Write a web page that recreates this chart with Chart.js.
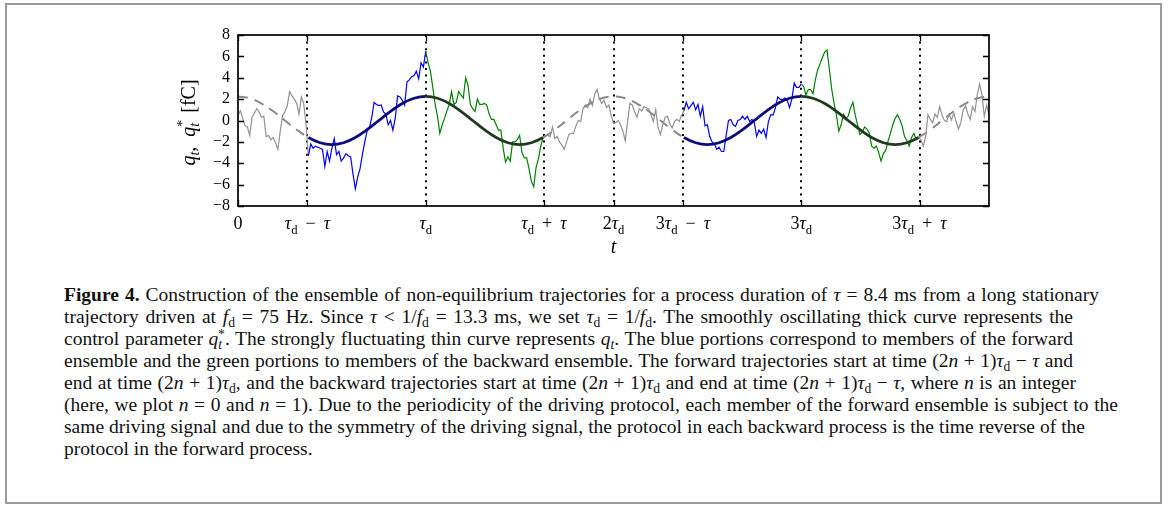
<!DOCTYPE html>
<html>
<head>
<meta charset="utf-8">
<script src="https://cdn.jsdelivr.net/npm/chart.js@4.4.1/dist/chart.umd.min.js"></script>
<style>
  html, body { margin: 0; padding: 0; background: #fff; }
  body { width: 1168px; height: 506px; position: relative; overflow: hidden; }
  #frame { position: absolute; left: 5px; top: 3px; width: 1157px; height: 501px;
           box-sizing: border-box; border: 2px solid #9b9b9b; }
  #chart { position: absolute; left: 0; top: 0; }
  #caption { position: absolute; left: 64px; top: 284px; color: #111;
             font-family: "Liberation Serif", serif; font-size: 19.5px; line-height: 22px; }
  #caption .ln { white-space: nowrap; height: 22px; }
  #caption .ln span { display: inline-block; }
  #caption sub { font-size: 0.7em; vertical-align: -0.3em; line-height: 0; }
  #caption sup.st { font-size: 0.7em; vertical-align: 0.45em; line-height: 0; margin-left: -0.3em; }
</style>
</head>
<body>
<div id="frame"></div>
<canvas id="chart" width="1168" height="270"></canvas>
<div id="caption">
  <div class="ln"><span><b>Figure 4.</b> Construction of the ensemble of non-equilibrium trajectories for a process duration of <i>τ</i> = 8.4 ms from a long stationary</span></div>
  <div class="ln"><span>trajectory driven at <i>f</i><sub>d</sub> = 75 Hz. Since <i>τ</i> &lt; 1/<i>f</i><sub>d</sub> = 13.3 ms, we set <i>τ</i><sub>d</sub> = 1/<i>f</i><sub>d</sub>. The smoothly oscillating thick curve represents the</span></div>
  <div class="ln"><span>control parameter <i>q</i><sub><i>t</i></sub><sup class="st">*</sup>. The strongly fluctuating thin curve represents <i>q</i><sub><i>t</i></sub>. The blue portions correspond to members of the forward</span></div>
  <div class="ln"><span>ensemble and the green portions to members of the backward ensemble. The forward trajectories start at time (2<i>n</i> + 1)<i>τ</i><sub>d</sub> − <i>τ</i> and</span></div>
  <div class="ln"><span>end at time (2<i>n</i> + 1)<i>τ</i><sub>d</sub>, and the backward trajectories start at time (2<i>n</i> + 1)<i>τ</i><sub>d</sub> and end at time (2<i>n</i> + 1)<i>τ</i><sub>d</sub> − <i>τ</i>, where <i>n</i> is an integer</span></div>
  <div class="ln"><span>(here, we plot <i>n</i> = 0 and <i>n</i> = 1). Due to the periodicity of the driving protocol, each member of the forward ensemble is subject to the</span></div>
  <div class="ln"><span>same driving signal and due to the symmetry of the driving signal, the protocol in each backward process is the time reverse of the</span></div>
  <div class="ln"><span>protocol in the forward process.</span></div>
</div>
<script>
// times in ms
const TAU_D = 1000 / 75;   // 13.33 ms
const TAU = 8.4;
const T_END = 4 * TAU_D;

// sampled trajectory q_t [fC], one value every TAU_D/80
const DT = TAU_D / 80;
const trajQ = [
  0.5, 0.9, 0.2, -0.5, -0.6, -1.4, 0.3, 0.7, 1.1, 0.8, 0.3, 0.4, -1.5, -1.4, -1.8, -1.6, -2.1, -2.7, -1.0, 0.5,
  0.8, 1.4, 2.7, 2.3, 2.0, 1.6, 0.6, 2.2, 1.6, -0.4,
  -3.3, -2.2, -2.6, -2.4, -2.5, -2.6, -2.7, -4.3, -2.9, -3.8, -2.6, -1.7, -3.2, -2.9, -3.8, -3.5, -3.1, -3.3, -3.4, -5.0,
  -6.4, -5.3, -4.5, -3.2, -2.0, -1.0, -0.7, 0.3, 1.7, 1.5, 1.4, 1.45, 0.8, 0.6, -0.4, 0.0,
  -0.9, 0.2, 2.3, 2.2, 1.9, 1.45, 3.6, 3.8, 4.1, 4.2, 4.6, 3.9, 5.4, 5.0, 6.5,
  5.4, 4.6, 3.1, 1.5, 0.4, -1.2, -0.4, 0.2, 0.9, 1.5, 2.7, 1.5, 1.7, 2.7, 2.4, 2.1, 4.0, 3.3, 1.5, 1.1,
  0.85, 2.0, 1.5, 1.5, 1.6, 1.45, 0.6, 0.1, 0.1, -0.4, -0.9, -0.9, -2.6, -3.9, -3.4, -3.8, -2.0, -2.0, -1.8, -1.4,
  -3.0, -3.5, -3.5, -4.5, -5.7, -6.2, -4.4, -3.6, -2.4, -1.6,
  -1.4, -1.4, -1.5, -0.6, -1.7, -1.5, -2.0, -2.3, -2.7, -2.0, -1.3, -1.2, -1.2, -0.5, 0.0, -0.1, 1.1, 1.45, 1.2, 2.0,
  1.4, 2.5, 2.9, 2.0, 1.6, 1.9, 1.2, 1.45, 0.5, -0.3, -0.2, 0.0, -0.4, -1.0, -1.9, -0.1, 1.6, 1.45, 0.8, 0.3,
  1.1, 0.9, 1.3, 1.2, 1.1, 0.5, -0.1, 1.0, -0.7, -1.3, -0.4, 0.3, 0.4, -0.3, -0.7, -0.1, 0.1, -0.1, 0.5,
  0.9, 1.7, 1.1, 1.4, 1.7, 1.0, 1.5, 0.4, 1.3, -0.5, -0.4, -1.5, -2.0, -2.2, -2.7, -2.5, -2.9, -2.9, -1.4, 0.0,
  0.1, -0.4, -0.55, 0.0, 0.1, 0.4, 0.1, 0.4, -0.1, 0.1, -0.2, -1.5, -0.9, -1.2, -0.8, -1.6, -0.1, 0.55, 0.5, 1.2,
  2.2, 2.0, 1.95, 2.1, 1.9, 1.2, 2.0, 3.5, 3.1, 3.1, 3.4,
  3.2, 2.4, 2.9, 2.9, 2.5, 3.8, 4.75, 5.3, 5.9, 6.4, 6.6, 4.75, 2.9, 1.6, 0.5, -1.0, -0.4, 0.6, 0.2,
  0.4, 1.2, 1.7, 0.5, -0.4, -1.3, -1.1, -0.6, -0.8, -1.2, -2.4, -2.6, -2.4, -3.0, -3.8, -3.1, -2.8, -1.9, -1.2, -0.4,
  0.2, 0.55, 0.1, -0.5, -1.5, -1.9, -2.4, -1.6, -1.2, -1.8, -1.6, -1.8, -2.4, -1.5, 0.55, 0.1, -0.2, 0.6, 0.3, 1.3,
  0.5, 0.0, -0.1, 0.6, 0.05, 0.7, -0.1, -0.8, -0.2, 1.0, 1.35, 0.6, 0.1, 1.3, 0.85, 2.4, 3.4, 2.4, 0.4, 1.45, 0.5
];

// control parameter q*_t [fC], one value every TAU_D/16
const PDT = TAU_D / 16;
const protoQ = [
  2.25, 2.08, 1.59, 0.86, 0, -0.86, -1.59, -2.08, -2.25, -2.08, -1.59, -0.86, 0, 0.86, 1.59, 2.08,
  2.25, 2.08, 1.59, 0.86, 0, -0.86, -1.59, -2.08, -2.25, -2.08, -1.59, -0.86, 0, 0.86, 1.59, 2.08,
  2.25, 2.08, 1.59, 0.86, 0, -0.86, -1.59, -2.08, -2.25, -2.08, -1.59, -0.86, 0, 0.86, 1.59, 2.08,
  2.25, 2.08, 1.59, 0.86, 0, -0.86, -1.59, -2.08, -2.25, -2.08, -1.59, -0.86, 0, 0.86, 1.59, 2.08,
  2.25
];

// forward window starts (end = start + TAU), backward window starts
const fwdStarts = [TAU_D - TAU, 3 * TAU_D - TAU];
const bwdStarts = [TAU_D, 3 * TAU_D];

const xTickValues = [0, TAU_D - TAU, TAU_D, TAU_D + TAU, 2 * TAU_D, 3 * TAU_D - TAU, 3 * TAU_D, 3 * TAU_D + TAU];
const xTickLabels = ['0', 'τd − τ', 'τd', 'τd + τ', '2τd', '3τd − τ', '3τd', '3τd + τ'];
const yTickValues = [-8, -6, -4, -2, 0, 2, 4, 6, 8];

const SERIF = '"Liberation Serif", "DejaVu Serif", serif';

function phase(ctx) {
  const m = (ctx.p0.parsed.x + ctx.p1.parsed.x) / 2;
  if (fwdStarts.some(s => m > s && m < s + TAU)) return 'fwd';
  if (bwdStarts.some(s => m > s && m < s + TAU)) return 'bwd';
  return 'rest';
}

// draw a short math string: τ italic, d after τ as subscript
function mathRuns(str, size) {
  const runs = [];
  for (let i = 0; i < str.length; i++) {
    const c = str[i];
    if (c === 'd' && str[i - 1] === 'τ') {
      runs.push({ t: 'd', f: (size * 0.7) + 'px ' + SERIF, dy: size * 0.25 });
    } else if (c === 'τ' || c === 't') {
      runs.push({ t: c, f: 'italic ' + size + 'px ' + SERIF, dy: 0 });
    } else if (c === ' ') {
      runs.push({ t: '\u2009 ', f: size + 'px ' + SERIF, dy: 0 });
    } else {
      runs.push({ t: c, f: size + 'px ' + SERIF, dy: 0 });
    }
  }
  return runs;
}

function drawRuns(ctx, runs, cx, baseY) {
  let w = 0;
  runs.forEach(r => { ctx.font = r.f; r.w = r.stack ? 0 : ctx.measureText(r.t).width; w += r.w; });
  let x = cx - w / 2;
  runs.forEach(r => {
    ctx.font = r.f;
    ctx.fillText(r.t, x, baseY + r.dy);
    x += r.w;
  });
}

const axisDecor = {
  id: 'axisDecor',
  afterDraw(chart) {
    const { ctx, chartArea: a, scales: { x, y } } = chart;
    ctx.save();
    ctx.strokeStyle = '#000';
    ctx.fillStyle = '#000';
    ctx.lineWidth = 1.3;
    ctx.beginPath();
    yTickValues.forEach(v => {
      const py = Math.round(y.getPixelForValue(v)) + 0.5;
      ctx.moveTo(a.left, py); ctx.lineTo(a.left + 6, py);
      ctx.moveTo(a.right, py); ctx.lineTo(a.right - 6, py);
    });
    xTickValues.forEach(v => {
      const px = Math.round(x.getPixelForValue(v)) + 0.5;
      ctx.moveTo(px, a.bottom); ctx.lineTo(px, a.bottom - 6);
      ctx.moveTo(px, a.top); ctx.lineTo(px, a.top + 6);
    });
    ctx.stroke();

    ctx.lineWidth = 1.7;
    ctx.strokeRect(a.left, a.top, a.right - a.left, a.bottom - a.top);

    ctx.textBaseline = 'alphabetic';
    xTickValues.forEach((v, i) => {
      drawRuns(ctx, mathRuns(xTickLabels[i], 18), x.getPixelForValue(v), a.bottom + 23);
    });

    // x title
    drawRuns(ctx, [{ t: 't', f: 'italic 20px ' + SERIF, dy: 0 }], (a.left + a.right) / 2, a.bottom + 47);

    // y title, rotated
    ctx.translate(195, (a.top + a.bottom) / 2 + 2);
    ctx.rotate(-Math.PI / 2);
    const it = 'italic 20px ' + SERIF, sm = 'italic 14px ' + SERIF, rm = '20px ' + SERIF;
    drawRuns(ctx, [
      { t: 'q', f: it, dy: 0 },
      { t: 't', f: sm, dy: 4 },
      { t: ',  ', f: rm, dy: 0 },
      { t: 'q', f: it, dy: 0 },
      { t: '*', f: '14px ' + SERIF, dy: -8, stack: true },
      { t: 't', f: sm, dy: 4 },
      { t: '  [fC]', f: rm, dy: 0 }
    ], 0, 0);
    ctx.restore();
  }
};

const trajData = trajQ.map((v, i) => ({ x: i * DT, y: v }));
const protoData = protoQ.map((v, k) => ({ x: k * PDT, y: v }));

new Chart(document.getElementById('chart'), {
  type: 'line',
  data: {
    datasets: [
      {
        label: 'q*_t',
        data: protoData,
        borderWidth: 2.8,
        pointRadius: 0,
        tension: 0.4,
        borderColor: '#888888',
        segment: {
          borderColor: c => ({ fwd: '#0c0c7c', bwd: '#1f3b1f', rest: '#8a8a8a' })[phase(c)],
          borderWidth: c => phase(c) === 'rest' ? 2 : 2.8,
          borderDash: c => phase(c) === 'rest' ? [10, 7] : []
        }
      },
      {
        label: 'q_t',
        data: trajData,
        borderWidth: 1.2,
        pointRadius: 0,
        tension: 0,
        borderColor: '#909090',
        segment: {
          borderColor: c => ({ fwd: '#0000ff', bwd: '#008000', rest: '#929292' })[phase(c)]
        }
      }
    ]
  },
  options: {
    responsive: false,
    animation: false,
    devicePixelRatio: 1,
    layout: { padding: { left: 0, right: 179, top: 35, bottom: 0 } },
    plugins: { legend: { display: false }, tooltip: { enabled: false } },
    scales: {
      x: {
        type: 'linear',
        min: 0,
        max: T_END,
        afterBuildTicks: s => { s.ticks = xTickValues.map(v => ({ value: v })); },
        afterFit: s => { s.height = 64; },
        ticks: { display: false, autoSkip: false },
        grid: {
          drawTicks: false,
          lineWidth: 2,
          color: c => (c.tick && c.tick.value === 0) ? 'rgba(0,0,0,0)' : '#000'
        },
        border: { display: false, dash: [2, 4.6] }
      },
      y: {
        min: -8,
        max: 8,
        afterBuildTicks: s => { s.ticks = yTickValues.map(v => ({ value: v })); },
        afterFit: s => { s.width = 238; },
        ticks: {
          autoSkip: false,
          padding: 8,
          color: '#000',
          font: { family: SERIF, size: 16 },
          callback: v => v < 0 ? '\u2212' + Math.abs(v) : String(v)
        },
        grid: { display: false, drawTicks: false },
        border: { display: false }
      }
    }
  },
  plugins: [axisDecor]
});

// stretch caption lines to their original right edges
const captionRight = [1099, 1073, 1073, 1073, 1076, 1118, 1085];
document.querySelectorAll('#caption .ln span').forEach((sp, i) => {
  if (i >= captionRight.length) return;
  const spaces = (sp.textContent.match(/ /g) || []).length;
  const w = sp.getBoundingClientRect().width;
  sp.style.wordSpacing = ((captionRight[i] - 64 - w) / spaces) + 'px';
});
</script>
</body>
</html>
